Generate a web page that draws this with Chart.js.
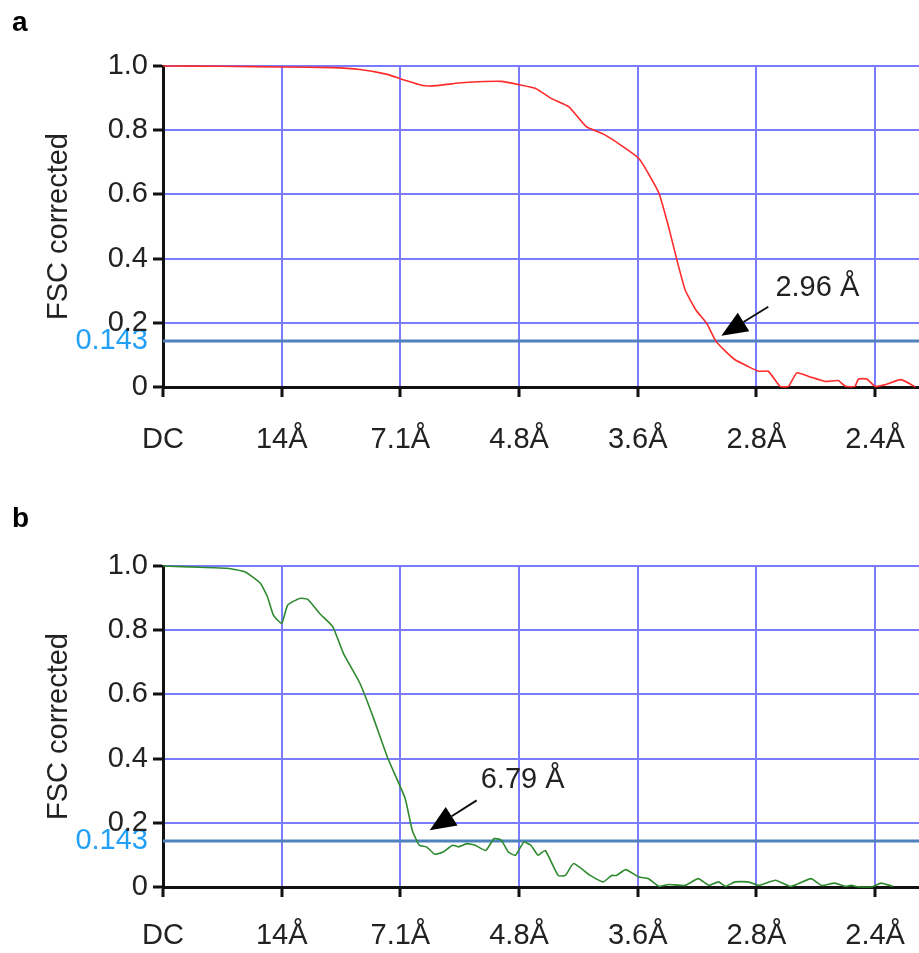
<!DOCTYPE html>
<html><head><meta charset="utf-8">
<script src="https://cdn.jsdelivr.net/npm/chart.js@4.4.1/dist/chart.umd.min.js"></script>
<style>
html,body{margin:0;padding:0;background:#fff;overflow:hidden}
#wrap{position:relative;width:919px;height:953px}
.panel{position:absolute;left:0;width:919px}
canvas{display:block}
</style></head><body>
<div id="wrap">
<div class="panel" style="top:0;height:480px"><canvas id="c1" width="919" height="480"></canvas></div>
<div class="panel" style="top:480px;height:473px"><canvas id="c2" width="919" height="473"></canvas></div>
</div>
<script>
// ---- data ----
const xTickPositions = [0, 1, 2, 3, 4, 5, 6];
const xTickLabels = ['DC', '14Å', '7.1Å', '4.8Å', '3.6Å', '2.8Å', '2.4Å'];
const yTickValues = [0, 0.143, 0.2, 0.4, 0.6, 0.8, 1.0];
const thresholdValue = 0.143;
const xMax = 6.37;

const redX = [0,0.5,1.0,1.43,1.66,1.89,2.01,2.19,2.31,2.49,2.66,2.85,3.01,3.14,3.27,3.42,3.57,3.70,3.86,4.01,4.09,4.18,4.26,4.33,4.40,4.49,4.58,4.66,4.74,4.82,4.93,5.02,5.10,5.20,5.27,5.34,5.44,5.58,5.69,5.75,5.83,5.86,5.93,6.00,6.09,6.22,6.34];
const redY = [1.0,0.999,0.997,0.995,0.989,0.974,0.959,0.939,0.939,0.947,0.951,0.952,0.941,0.930,0.899,0.873,0.810,0.790,0.753,0.712,0.665,0.603,0.499,0.396,0.302,0.240,0.199,0.142,0.111,0.085,0.064,0.049,0.049,0.002,0.002,0.044,0.033,0.017,0.020,0.002,0.002,0.025,0.025,0.002,0.008,0.023,0.0];

const greenX = [0,0.31,0.54,0.69,0.82,0.88,0.93,1.00,1.05,1.15,1.22,1.32,1.43,1.52,1.66,1.77,1.89,2.04,2.10,2.16,2.22,2.29,2.36,2.44,2.49,2.56,2.63,2.72,2.79,2.85,2.91,2.97,3.04,3.10,3.16,3.22,3.33,3.39,3.46,3.60,3.71,3.78,3.82,3.90,4.01,4.09,4.18,4.26,4.40,4.51,4.60,4.68,4.74,4.82,4.93,5.02,5.16,5.29,5.46,5.55,5.66,5.75,5.80,5.86,5.97,6.05,6.15];
const greenY = [1.0,0.996,0.993,0.982,0.946,0.904,0.847,0.821,0.878,0.899,0.896,0.852,0.811,0.728,0.634,0.530,0.405,0.276,0.177,0.130,0.125,0.102,0.109,0.130,0.125,0.135,0.130,0.114,0.151,0.146,0.109,0.099,0.140,0.130,0.099,0.114,0.036,0.036,0.073,0.036,0.016,0.036,0.036,0.054,0.031,0.026,0.002,0.008,0.005,0.026,0.005,0.016,0.002,0.016,0.016,0.005,0.021,0.002,0.026,0.005,0.012,0.002,0.005,0.0,0.0,0.012,0.002];

const annotA = { letter: 'a', label: '2.96 Å', tip: [4.705, 0.16], tail: [5.10, 0.25], labelPos: [5.16, 0.309] };
const annotB = { letter: 'b', label: '6.79 Å', tip: [2.247, 0.177], tail: [2.643, 0.27], labelPos: [2.677, 0.333] };

// ---- drawing ----
const FONT = '"Liberation Sans", Arial, sans-serif';
const GRID = '#7b7bff';
const INK = '#222';

const annotPlugin = {
  id: 'annot',
  afterDraw(chart, args, opts) {
    const { ctx } = chart;
    const x = chart.scales.x, y = chart.scales.y;
    ctx.save();
    ctx.font = 'bold 28px ' + FONT;
    ctx.fillStyle = '#000';
    ctx.textAlign = 'left';
    ctx.textBaseline = 'alphabetic';
    ctx.fillText(opts.letter, 12, opts.letterBaseline);

    const tx = x.getPixelForValue(opts.tip[0]), ty = y.getPixelForValue(opts.tip[1]);
    const sx = x.getPixelForValue(opts.tail[0]), sy = y.getPixelForValue(opts.tail[1]);
    const dx = sx - tx, dy = sy - ty, L = Math.hypot(dx, dy), ux = dx / L, uy = dy / L;
    const hl = 26, hw = 11;
    const bx = tx + ux * hl, by = ty + uy * hl;
    ctx.strokeStyle = '#111';
    ctx.fillStyle = '#000';
    ctx.lineWidth = 2;
    ctx.beginPath(); ctx.moveTo(sx, sy); ctx.lineTo(bx, by); ctx.stroke();
    ctx.beginPath();
    ctx.moveTo(tx, ty);
    ctx.lineTo(bx - uy * hw, by + ux * hw);
    ctx.lineTo(bx + uy * hw, by - ux * hw);
    ctx.closePath(); ctx.fill();

    ctx.font = '29px ' + FONT;
    ctx.fillStyle = INK;
    ctx.textBaseline = 'middle';
    ctx.fillText(opts.label, x.getPixelForValue(opts.labelPos[0]), y.getPixelForValue(opts.labelPos[1]));
    ctx.restore();
  }
};

function makeChart(id, xs, ys, color, annot, cfg) {
  const pts = xs.map((v, i) => ({ x: v, y: ys[i] }));
  return new Chart(document.getElementById(id), {
    type: 'line',
    data: {
      datasets: [
        { data: pts, borderColor: color, borderWidth: 1.6, pointRadius: 0, tension: 0.15, fill: false, clip: 3 },
        { data: [{ x: 0, y: thresholdValue }, { x: xMax, y: thresholdValue }], borderColor: '#4f81bd', borderWidth: 3, pointRadius: 0, fill: false }
      ]
    },
    options: {
      responsive: false,
      animation: false,
      events: [],
      layout: { padding: { top: cfg.top, left: 0, right: 0, bottom: 0 } },
      plugins: {
        legend: { display: false },
        tooltip: { enabled: false },
        annot: Object.assign({ letterBaseline: cfg.letterBaseline }, annot)
      },
      scales: {
        x: {
          type: 'linear', min: 0, max: xMax,
          afterBuildTicks: s => { s.ticks = xTickPositions.map(v => ({ value: v })); },
          afterFit: s => { s.height = cfg.xh; s.paddingLeft = 0; s.paddingRight = 0; },
          grid: { color: GRID, lineWidth: 2, tickColor: '#111', tickWidth: 3, tickLength: 10 },
          border: { display: true, color: '#111', width: 3 },
          ticks: {
            callback: (v, i) => xTickLabels[xTickPositions.indexOf(v)] ?? '',
            font: { size: 29, family: FONT, lineHeight: 1.2 }, color: INK,
            padding: cfg.xpad, maxRotation: 0, autoSkip: false
          }
        },
        y: {
          type: 'linear', min: 0, max: 1,
          afterBuildTicks: s => { s.ticks = yTickValues.map(v => ({ value: v })); },
          afterFit: s => { s.width = 163; s.paddingTop = 0; s.paddingBottom = 0; },
          grid: {
            color: c => (c.tick && c.tick.value === thresholdValue) ? 'rgba(0,0,0,0)' : GRID,
            tickColor: c => (c.tick && c.tick.value === thresholdValue) ? 'rgba(0,0,0,0)' : '#111',
            lineWidth: 2, tickWidth: 3, tickLength: 10
          },
          border: { display: true, color: '#111', width: 3 },
          ticks: {
            callback: v => v === 0 ? '0' : (v === thresholdValue ? '0.143' : v.toFixed(1)),
            font: { size: 29, family: FONT, lineHeight: 1.2 },
            color: c => (c.tick && c.tick.value === thresholdValue) ? '#22a0f5' : INK,
            padding: 5, autoSkip: false
          },
          title: {
            display: true, text: 'FSC corrected', color: INK,
            font: { size: 29, family: FONT, lineHeight: 1.2 },
            padding: { top: 42, bottom: 0 }
          }
        }
      }
    },
    plugins: [annotPlugin]
  });
}

makeChart('c1', redX, redY, '#ff2a2a', annotA, { top: 66, xh: 93, xpad: 26, letterBaseline: 31 });
makeChart('c2', greenX, greenY, '#2f8a2f', annotB, { top: 86, xh: 66, xpad: 22, letterBaseline: 47 });
</script>
</body></html>
